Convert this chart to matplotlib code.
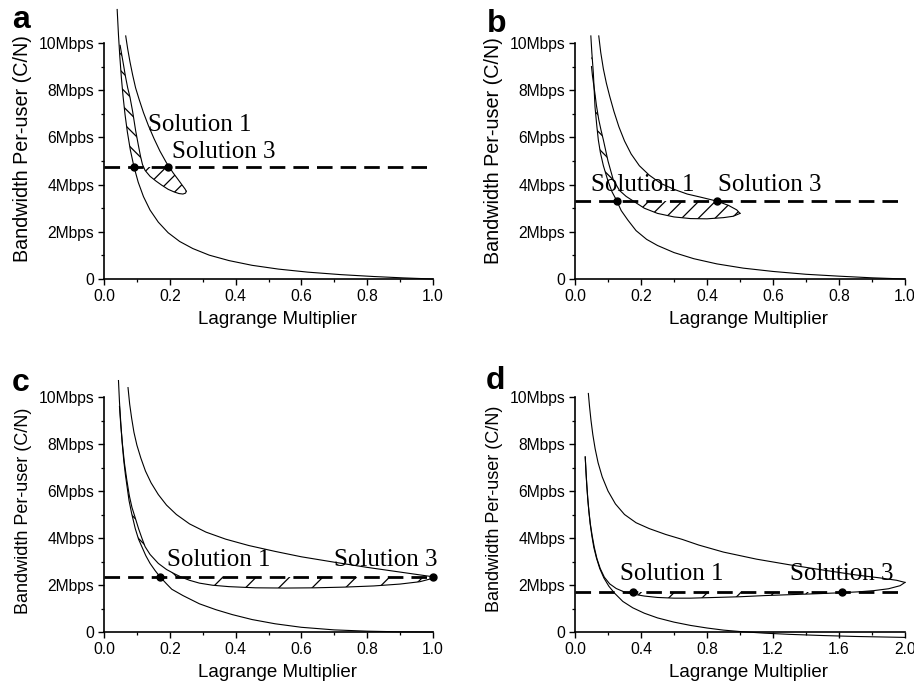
import matplotlib
matplotlib.use('Agg')
import matplotlib.pyplot as plt
from matplotlib.patches import Polygon, Rectangle
from matplotlib.ticker import FixedLocator, MultipleLocator, FormatStrFormatter

plt.rcParams['font.family'] = ['Liberation Sans', 'DejaVu Sans']
plt.rcParams['hatch.linewidth'] = 0.9
plt.rcParams['hatch.color'] = 'black'

# ---------------- data ----------------
panel_letters = ['a', 'b', 'c', 'd']
x_max = [1.0, 1.0, 1.0, 2.0]
x_major = [0.2, 0.2, 0.2, 0.4]
y_ticks = [0, 2, 4, 6, 8, 10]
y_tick_labels = ['0', '2Mbps', '4Mbps', '6Mpbs', '8Mbps', '10Mbps']
x_label = 'Lagrange Multiplier'
y_label = 'Bandwidth Per-user (C/N)'

# panel a
a_c1_x = [0.040, 0.044, 0.048, 0.053, 0.058, 0.064, 0.071, 0.080, 0.091, 0.104, 0.12, 0.14, 0.165,
          0.195, 0.23, 0.27, 0.32, 0.38, 0.45, 0.53, 0.62, 0.72, 0.82, 0.91, 1.0]
a_c1_y = [11.42, 10.34, 9.44, 8.50, 7.73, 6.96, 6.23, 5.47, 4.76, 4.10, 3.49, 2.92, 2.41,
          1.96, 1.59, 1.29, 1.01, 0.78, 0.58, 0.42, 0.29, 0.185, 0.105, 0.047, 0.0]
a_c2_x = [0.066, 0.072, 0.079, 0.087, 0.096, 0.107, 0.12, 0.135, 0.152, 0.17, 0.19, 0.21, 0.226,
          0.238, 0.246, 0.25]
a_c2_y = [10.3, 9.75, 9.2, 8.65, 8.1, 7.6, 7.05, 6.5, 5.95, 5.42, 4.92, 4.5, 4.2,
          3.97, 3.82, 3.72]
a_c3_x = [0.049, 0.054, 0.059, 0.065, 0.072, 0.079, 0.087, 0.096, 0.104, 0.111, 0.117, 0.125, 0.14,
          0.158, 0.175, 0.195, 0.213, 0.228, 0.24, 0.248, 0.25]
a_c3_y = [9.9, 9.5, 9.1, 8.6, 8.1, 7.7, 7.1, 6.3, 5.7, 5.2, 4.85, 4.6, 4.35,
          4.15, 3.98, 3.8, 3.69, 3.62, 3.6, 3.64, 3.72]
a_level = 4.76
a_sol_x = [0.091, 0.196]
a_text_pos = [(0.134, 6.27), (0.206, 5.13)]

# panel b
b_c1_x = [0.048, 0.051, 0.0556, 0.0606, 0.066, 0.0707, 0.077, 0.086, 0.1, 0.112, 0.126, 0.14, 0.16,
          0.185, 0.217, 0.25, 0.30, 0.36, 0.43, 0.51, 0.60, 0.70, 0.80, 0.90, 1.0]
b_c1_y = [10.3, 9.6, 8.72, 7.3, 6.5, 5.89, 5.35, 4.8, 4.15, 3.7, 3.33, 2.9, 2.5,
          2.05, 1.68, 1.42, 1.12, 0.86, 0.64, 0.46, 0.32, 0.2, 0.12, 0.05, 0.0]
b_c2_x = [0.072, 0.078, 0.086, 0.095, 0.105, 0.118, 0.133, 0.15, 0.17, 0.195, 0.225, 0.26, 0.30,
          0.34, 0.38, 0.43, 0.465, 0.49, 0.5]
b_c2_y = [10.3, 9.6, 8.9, 8.3, 7.75, 7.1, 6.45, 5.85, 5.3, 4.8, 4.4, 4.05, 3.8,
          3.6, 3.47, 3.3, 3.12, 2.93, 2.78]
b_c3_x = [0.050, 0.053, 0.056, 0.060, 0.065, 0.072, 0.079, 0.086, 0.1, 0.116, 0.135, 0.155, 0.177,
          0.21, 0.25, 0.30, 0.35, 0.40, 0.45, 0.48, 0.5]
b_c3_y = [9.0, 8.6, 8.3, 7.9, 7.35, 6.75, 6.3, 5.89, 5.0, 4.2, 3.75, 3.5, 3.3,
          3.0, 2.78, 2.63, 2.56, 2.55, 2.6, 2.66, 2.78]
b_level = 3.30
b_sol_x = [0.126, 0.43]
b_text_pos = [(0.049, 3.73), (0.433, 3.73)]

# panel c
c_c1_x = [0.044, 0.047, 0.051, 0.055, 0.060, 0.065, 0.069, 0.076, 0.084, 0.095, 0.105, 0.115, 0.127,
          0.14, 0.155, 0.17, 0.19, 0.206, 0.24, 0.29, 0.34, 0.39, 0.45, 0.52, 0.6, 0.7, 0.8, 0.9, 1.0]
c_c1_y = [10.7, 9.8, 8.9, 8.1, 7.3, 6.7, 6.3, 5.6, 5.05, 4.4, 3.95, 3.63, 3.25,
          2.92, 2.62, 2.35, 2.05, 1.82, 1.55, 1.2, 0.95, 0.74, 0.53, 0.35, 0.2, 0.09, 0.035, 0.008, 0.0]
c_c2_x = [0.073, 0.078, 0.084, 0.091, 0.10, 0.112, 0.126, 0.143, 0.165, 0.19, 0.22, 0.26, 0.31,
          0.37, 0.44, 0.52, 0.6, 0.7, 0.8, 0.88, 0.94, 1.0]
c_c2_y = [10.4, 9.7, 9.1, 8.5, 7.95, 7.4, 6.85, 6.35, 5.85, 5.4, 5.0, 4.6, 4.25,
          3.95, 3.68, 3.43, 3.2, 2.97, 2.75, 2.59, 2.47, 2.35]
c_c3_x = [0.047, 0.051, 0.056, 0.062, 0.069, 0.077, 0.085, 0.094, 0.105, 0.115, 0.125, 0.14, 0.165,
          0.19, 0.215, 0.236, 0.26, 0.29, 0.33, 0.38, 0.46, 0.55, 0.64, 0.73, 0.82, 0.9, 0.96, 0.99, 1.0]
c_c3_y = [9.6, 8.8, 8.0, 7.2, 6.5, 5.8, 5.3, 4.9, 4.4, 4.0, 3.63, 3.3, 2.92,
          2.66, 2.47, 2.33, 2.2, 2.08, 1.99, 1.93, 1.88, 1.87, 1.88, 1.91, 1.96, 2.04, 2.14, 2.25, 2.35]
c_level = 2.33
c_sol_x = [0.17, 1.0]
c_text_pos = [(0.19, 2.81), (0.70, 2.81)]

# panel d
d_c1_x = [0.062, 0.066, 0.071, 0.077, 0.084, 0.092, 0.102, 0.114, 0.13, 0.15, 0.175, 0.205, 0.24,
          0.29, 0.35, 0.42, 0.5, 0.6, 0.7, 0.8, 0.9, 1.0, 1.15, 1.3, 1.5, 1.7, 1.85, 2.0]
d_c1_y = [7.45, 6.9, 6.3, 5.7, 5.15, 4.6, 4.1, 3.6, 3.15, 2.7, 2.3, 1.95, 1.65,
          1.3, 1.03, 0.8, 0.6, 0.42, 0.28, 0.17, 0.08, 0.02, -0.05, -0.1, -0.15, -0.19, -0.21, -0.23]
d_c2_x = [0.081, 0.088, 0.097, 0.108, 0.122, 0.14, 0.165, 0.2, 0.245, 0.3, 0.37, 0.45, 0.55,
          0.65, 0.75, 0.9, 1.1, 1.3, 1.5, 1.7, 1.85, 1.95, 2.0]
d_c2_y = [10.15, 9.6, 9.0, 8.4, 7.8, 7.2, 6.6, 6.0, 5.45, 5.0, 4.65, 4.4, 4.15,
          3.94, 3.7, 3.4, 3.1, 2.86, 2.64, 2.43, 2.3, 2.2, 2.11]
d_c3_x = [0.062, 0.066, 0.071, 0.077, 0.084, 0.093, 0.104, 0.117, 0.133, 0.153, 0.178, 0.21, 0.25,
          0.3, 0.354, 0.42, 0.5, 0.6, 0.7, 0.85, 1.0, 1.15, 1.31, 1.47, 1.61, 1.72, 1.81, 1.9, 1.97, 2.0]
d_c3_y = [7.45, 6.9, 6.3, 5.7, 5.15, 4.6, 4.1, 3.6, 3.12, 2.7, 2.33, 2.05, 1.85,
          1.7, 1.61, 1.53, 1.47, 1.44, 1.44, 1.47, 1.5, 1.55, 1.59, 1.63, 1.67, 1.71, 1.76, 1.84, 1.97, 2.11]
d_level = 1.69
d_sol_x = [0.354, 1.62]
d_text_pos = [(0.275, 2.2), (1.305, 2.2)]

solution_labels = ['Solution 1', 'Solution 3']

panels = [
    (a_c1_x, a_c1_y, a_c2_x, a_c2_y, a_c3_x, a_c3_y, a_level, a_sol_x, a_text_pos),
    (b_c1_x, b_c1_y, b_c2_x, b_c2_y, b_c3_x, b_c3_y, b_level, b_sol_x, b_text_pos),
    (c_c1_x, c_c1_y, c_c2_x, c_c2_y, c_c3_x, c_c3_y, c_level, c_sol_x, c_text_pos),
    (d_c1_x, d_c1_y, d_c2_x, d_c2_y, d_c3_x, d_c3_y, d_level, d_sol_x, d_text_pos),
]

# ---------------- styling / layout ----------------
strip_hatch = ['\\\\', '\\\\', '\\\\', '\\\\']
lobe_hatch = ['//', '//', '/', '/']
ylabel_size = [14.2, 14.2, 13.0, 13.0]
ylabel_pos = [0.552, 0.546, 0.515, 0.526]
xlabel_pos = [0.528, 0.527, 0.528, 0.527]

W, H = 914, 682
fig = plt.figure(figsize=(W / 100, H / 100), dpi=100)
rects = [
    [104 / W, (H - 279) / H, 329 / W, 236 / H],
    [575 / W, (H - 279) / H, 330 / W, 236 / H],
    [104 / W, (H - 632) / H, 329 / W, 235 / H],
    [575 / W, (H - 632) / H, 330 / W, 235 / H],
]
letter_pos = [(12, 28), (487, 32), (12, 391), (486, 389)]

for i, (rect, data) in enumerate(zip(rects, panels)):
    c1x, c1y, c2x, c2y, c3x, c3y, level, solx, tpos = data
    ax = fig.add_axes(rect)
    xm = x_max[i]
    ax.set_xlim(0, xm)
    ax.set_ylim(0, 10)
    for s in ['top', 'right']:
        ax.spines[s].set_visible(False)
    for s in ['left', 'bottom']:
        ax.spines[s].set_linewidth(1.2)

    # hatched regions
    strip = Polygon(list(zip(c1x, c1y)) + list(zip(c3x[::-1], c3y[::-1])), closed=True,
                    facecolor='none', edgecolor='black', linewidth=0, hatch=strip_hatch[i])
    ax.add_patch(strip)
    strip.set_clip_path(Rectangle((0, level), xm / 2, 10 - level, transform=ax.transData))
    lobe = Polygon(list(zip(c2x, c2y)) + list(zip(c3x[::-1], c3y[::-1])), closed=True,
                   facecolor='none', edgecolor='black', linewidth=0, hatch=lobe_hatch[i])
    ax.add_patch(lobe)
    lobe.set_clip_path(Rectangle((0, -1), xm, level + 1, transform=ax.transData))

    # curves
    for cx, cy in [(c1x, c1y), (c2x, c2y), (c3x, c3y)]:
        ax.plot(cx, cy, color='black', lw=0.8, clip_on=False, zorder=3)

    # dashed level line and solution points
    ax.plot([0, xm], [level, level], color='black', lw=2.0, dashes=(5.6, 2.9), zorder=4)
    ax.plot(solx, [level] * len(solx), 'o', color='black', ms=5, clip_on=False, zorder=5)

    for (tx, ty), lab in zip(tpos, solution_labels):
        ax.text(tx, ty, lab, family=['Liberation Serif', 'DejaVu Serif'], fontsize=18,
                ha='left', va='baseline', zorder=6)

    # ticks
    ax.xaxis.set_major_locator(MultipleLocator(x_major[i]))
    ax.xaxis.set_minor_locator(MultipleLocator(x_major[i] / 2))
    ax.xaxis.set_major_formatter(FormatStrFormatter('%.1f'))
    ax.yaxis.set_major_locator(FixedLocator(y_ticks))
    ax.set_yticklabels(y_tick_labels)
    ax.yaxis.set_minor_locator(MultipleLocator(1))
    ax.tick_params(which='major', direction='out', length=4, width=1.0, labelsize=11.3, pad=3)
    ax.tick_params(which='minor', direction='out', length=2.2, width=0.9)

    ax.set_xlabel(x_label, fontsize=13.5, labelpad=5, x=xlabel_pos[i])
    ax.set_ylabel(y_label, fontsize=ylabel_size[i], labelpad=5, y=ylabel_pos[i])

    lx, ly = letter_pos[i]
    fig.text(lx / W, 1 - ly / H, panel_letters[i], fontsize=23, fontweight='bold',
             ha='left', va='baseline')

fig.savefig('out.png', dpi=100)
